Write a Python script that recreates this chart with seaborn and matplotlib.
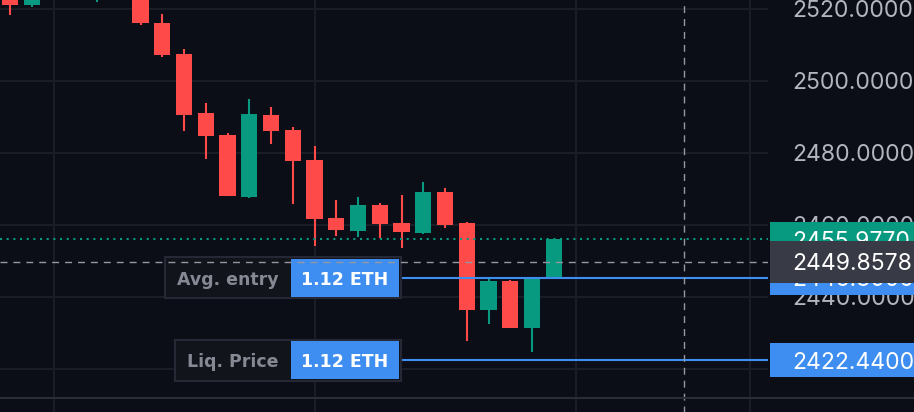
import matplotlib
matplotlib.use("Agg")
import matplotlib.pyplot as plt
import matplotlib.patches as mpatches
import seaborn as sns
import numpy as np

# candles, oldest -> newest
opens = [2524.0, 2521.1, 2527.0, 2529.5, 2526.0, 2528.0, 2525.0, 2516.1, 2507.5, 2491.1,
         2485.0, 2467.8, 2490.6, 2486.4, 2478.1, 2461.9, 2458.3, 2465.6, 2460.6, 2457.8,
         2469.2, 2460.6, 2436.4, 2444.4, 2431.4, 2445.3]
highs = [2526.0, 2526.5, 2531.0, 2532.0, 2529.0, 2530.0, 2527.0, 2518.6, 2508.9, 2493.9,
         2485.6, 2495.0, 2492.8, 2487.2, 2481.9, 2466.9, 2467.8, 2466.1, 2468.3, 2471.9,
         2470.3, 2460.8, 2445.3, 2444.7, 2445.0, 2455.977]
lows = [2518.3, 2520.6, 2525.5, 2526.0, 2522.0, 2524.0, 2515.6, 2506.7, 2486.1, 2478.3,
        2468.0, 2467.5, 2482.5, 2465.8, 2454.2, 2456.9, 2456.7, 2456.4, 2453.6, 2457.5,
        2459.2, 2427.8, 2432.5, 2431.4, 2424.7, 2445.3]
closes = [2521.1, 2525.0, 2529.5, 2527.0, 2528.0, 2525.0, 2516.1, 2507.2, 2490.6, 2484.7,
          2468.1, 2490.8, 2486.1, 2477.8, 2461.7, 2458.6, 2465.6, 2460.3, 2458.1, 2469.2,
          2460.0, 2436.4, 2444.4, 2431.4, 2445.0, 2455.977]

price_ticks = [2420, 2440, 2460, 2480, 2500, 2520]
time_grid = [2, 14, 26, 34]

last_price = 2455.977
crosshair_price = 2449.8578
crosshair_bar = 31
avg_entry = 2445.30
liq_price = 2422.44
position_size = "1.12 ETH"

BG = "#0b0e16"
GRID = "#1b1e27"
UP = "#089981"
DOWN = "#fe4a49"
BLUE = "#3d8ef0"
CROSS = "#9598a1"
AXIS_FONT = ["Inter", "DejaVu Sans"]
AXIS_SIZE = 16.5

sns.set_theme(style="dark", rc={"axes.facecolor": BG, "figure.facecolor": BG})
plt.rcParams["font.family"] = AXIS_FONT

fig = plt.figure(figsize=(9.14, 4.12), dpi=100)
PLOT_W, PLOT_H = 768, 398
ax = fig.add_axes([0, (412 - PLOT_H) / 412, PLOT_W / 914, PLOT_H / 412])
ax.set_facecolor(BG)

ymin, ymax = 2411.94, 2522.5
ax.set_ylim(ymin, ymax)
ax.set_xlim(-0.46, 34.85)
upp = (ymax - ymin) / PLOT_H  # price units per pixel

for s in ax.spines.values():
    s.set_visible(False)

# grid
for p in price_ticks:
    ax.axhline(p, color=GRID, lw=1.4, zorder=0.5)
for t in time_grid:
    ax.axvline(t, ymin=-0.04, ymax=1, color=GRID, lw=1.4, zorder=0.5, clip_on=False)
fig.add_artist(plt.Line2D([0, 1], [(412 - PLOT_H) / 412] * 2, color="#2a2d37", lw=1.5))

# candles
idx = np.arange(len(opens))
o = np.array(opens); c = np.array(closes)
colors = [UP if cc >= oo else DOWN for oo, cc in zip(o, c)]
ax.vlines(idx, lows, highs, colors=colors, lw=1.5, zorder=2)
ax.bar(idx, np.abs(c - o), bottom=np.minimum(o, c), width=0.74, color=colors,
       linewidth=0, zorder=3)

# price axis on the right
ax.yaxis.tick_right()
ax.set_yticks(price_ticks)
ax.set_yticklabels([f"{p:.4f}" for p in price_ticks])
ax.tick_params(axis="y", length=0, pad=17.5, labelsize=AXIS_SIZE, labelcolor="#b2b5be")
ax.set_xticks([])

# last price dotted line, crosshair
ax.axhline(last_price, color=UP, lw=1.5, ls=(0, (1, 2.2)), zorder=4)
ax.axhline(crosshair_price, color=CROSS, lw=1.0, ls=(0, (5, 4.3)), zorder=9)
ax.axvline(crosshair_bar, ymin=-0.04, ymax=1, color=CROSS, lw=1.0, ls=(0, (5, 4.3)),
           zorder=9, clip_on=False)

tr = ax.get_yaxis_transform()


def price_tag(price, text, color, h_px, z, tcolor="white"):
    h = h_px * upp
    ax.add_patch(mpatches.Rectangle((770 / PLOT_W, price - h / 2), 0.3, h, transform=tr,
                                    color=color, lw=0, clip_on=False, zorder=z))
    ax.text(792 / PLOT_W, price, text, transform=tr, ha="left", va="center_baseline",
            fontsize=AXIS_SIZE, color=tcolor, clip_on=False, zorder=z + 0.1)


def position_label(price, name, left_px):
    h_out = 41 * upp
    ax.add_patch(mpatches.Rectangle((left_px / PLOT_W, price - h_out / 2),
                                    (401 - left_px) / PLOT_W, h_out, transform=tr,
                                    facecolor="#12141c", edgecolor="#262836", lw=1.5, zorder=6))
    h_in = 38 * upp
    ax.add_patch(mpatches.Rectangle((291 / PLOT_W, price - h_in / 2), 108 / PLOT_W, h_in,
                                    transform=tr, color=BLUE, lw=0, zorder=7))
    ax.text((left_px + 290) / 2 / PLOT_W, price, name, transform=tr, ha="center",
            va="center_baseline", fontsize=12.5, fontweight="bold", color="#868993",
            family="DejaVu Sans", zorder=8)
    ax.text(345 / PLOT_W, price, position_size, transform=tr, ha="center",
            va="center_baseline", fontsize=12.5, fontweight="bold", color="white",
            family="DejaVu Sans", zorder=8)
    ax.axhline(price, xmin=401 / PLOT_W, xmax=1, color=BLUE, lw=1.5, zorder=5)


position_label(avg_entry, "Avg. entry", 165)
position_label(liq_price, "Liq. Price", 175)

price_tag(last_price, f"{last_price:.4f}", UP, 34, 10)
price_tag(avg_entry, f"{avg_entry:.4f}", BLUE, 34, 11)
price_tag(liq_price, f"{liq_price:.4f}", BLUE, 34, 10)
price_tag(crosshair_price, f"{crosshair_price:.4f}", "#383b46", 42, 12)

fig.savefig("out.png", dpi=100, facecolor=BG)
